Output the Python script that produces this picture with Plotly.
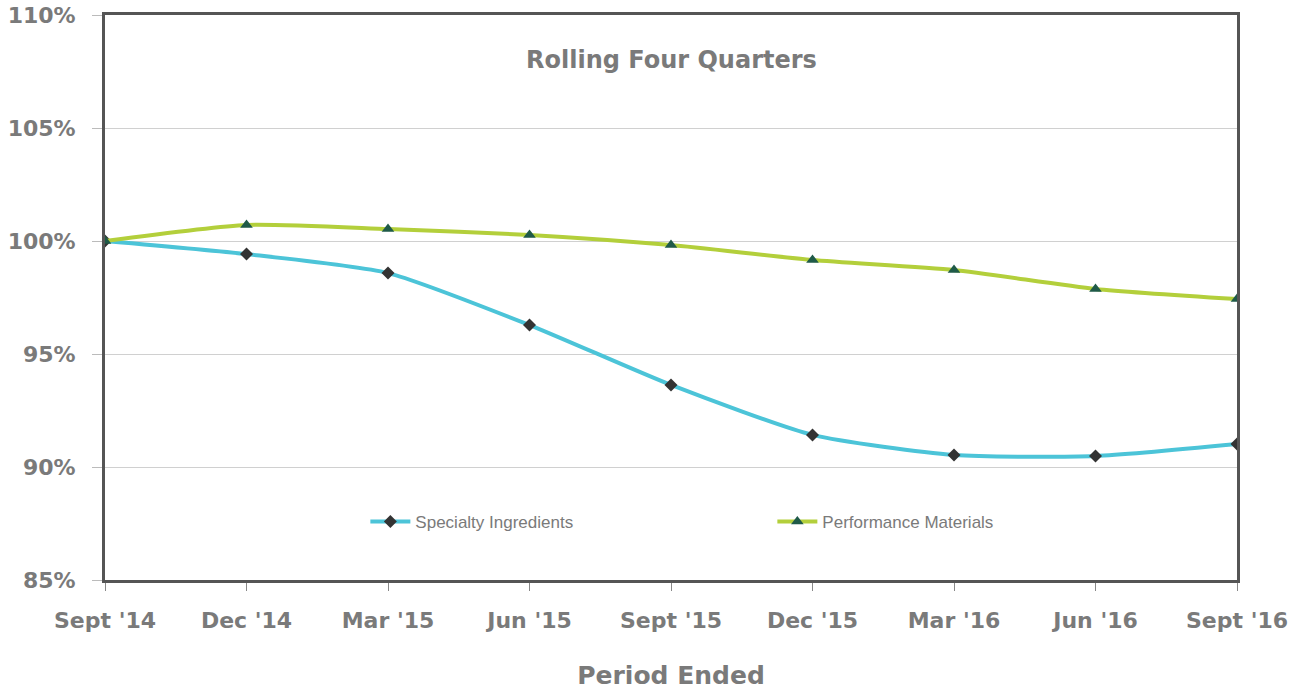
import plotly.graph_objects as go

periods = ["Sept '14", "Dec '14", "Mar '15", "Jun '15", "Sept '15", "Dec '15", "Mar '16", "Jun '16", "Sept '16"]
specialty = [100.0, 99.42, 98.58, 96.28, 93.63, 91.42, 90.53, 90.49, 91.02]
performance = [100.0, 100.71, 100.53, 100.27, 99.82, 99.16, 98.72, 97.88, 97.43]
y_ticks = [85, 90, 95, 100, 105, 110]
y_tick_labels = [f"{v}%" for v in y_ticks]

fig = go.Figure()
fig.add_trace(go.Scatter(
    x=periods, y=specialty, name="Specialty Ingredients", mode="lines+markers",
    line=dict(color="#4cc4d8", width=4, shape="spline", smoothing=0.6),
    marker=dict(symbol="diamond", size=10, color="#333333"),
))
fig.add_trace(go.Scatter(
    x=periods, y=performance, name="Performance Materials", mode="lines+markers",
    line=dict(color="#b3cf3b", width=4, shape="spline", smoothing=0.6),
    marker=dict(symbol="triangle-up", size=11, color="#1f5a48"),
))

gray = "#7a7a7a"
main_font = "DejaVu Sans"
fig.update_layout(
    width=1290, height=690,
    margin=dict(l=105, r=53, t=15, b=110, autoexpand=False),
    paper_bgcolor="white", plot_bgcolor="white",
    font=dict(family=main_font, color=gray),
    annotations=[dict(text="Rolling Four Quarters", x=0.5, y=(580 - 60) / 565,
                      xref="paper", yref="paper", showarrow=False, yanchor="middle",
                      font=dict(family=main_font, size=24, color=gray, weight=700))],
    legend=dict(orientation="h", x=0.23, y=(580 - 522) / 565, xanchor="left", yanchor="middle",
                entrywidth=352, entrywidthmode="pixels", bgcolor="rgba(0,0,0,0)",
                font=dict(family="Liberation Sans Narrow, Liberation Sans", size=17, color=gray),
                itemwidth=40),
    xaxis=dict(
        title=dict(text="Period Ended", font=dict(family=main_font, size=25, color=gray, weight=700), standoff=36),
        tickfont=dict(family=main_font, size=22, color=gray, weight=700),
        showline=True, linecolor="#555555", linewidth=3, mirror=True,
        ticks="outside", ticklen=8, tickcolor="#888888", tickwidth=1, ticklabelstandoff=11,
        showgrid=False, range=[0, 8], zeroline=False, automargin=False, ticklabeloverflow="allow",
    ),
    yaxis=dict(
        range=[85, 110], tickvals=y_ticks, ticktext=y_tick_labels,
        tickfont=dict(family=main_font, size=22, color=gray, weight=700),
        showline=True, linecolor="#555555", linewidth=3, mirror=True,
        ticks="outside", ticklen=10, tickcolor="#bbbbbb", ticklabelstandoff=12,
        showgrid=True, gridcolor="#d0d0d0", gridwidth=1, zeroline=False, automargin=False,
        ticklabeloverflow="allow",
    ),
)
fig.write_html("out.html", config={"displayModeBar": False},
               post_script="document.body.style.margin='0';document.body.style.overflow='hidden';")
